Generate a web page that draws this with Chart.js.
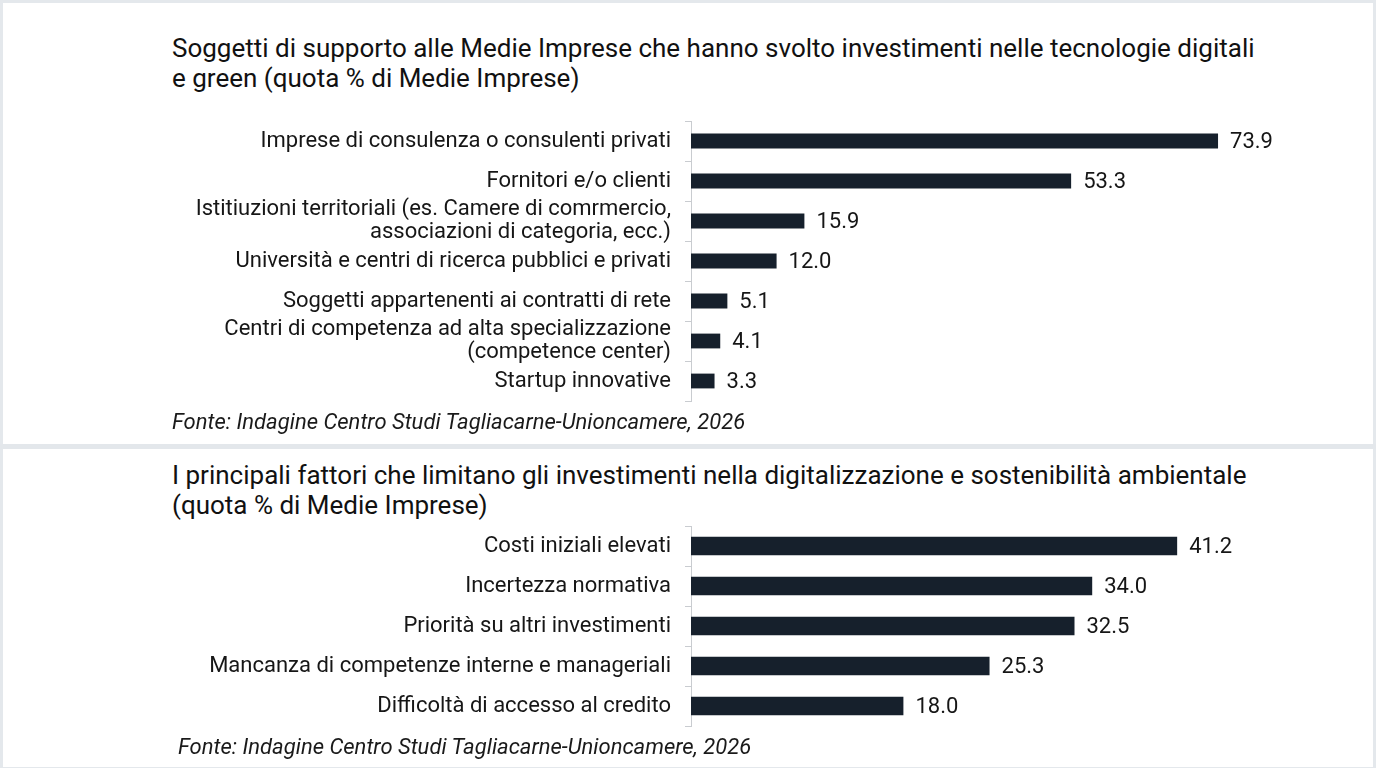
<!DOCTYPE html>
<html lang="it">
<head>
<meta charset="utf-8">
<title>Medie Imprese - investimenti digitali e green</title>
<script src="https://cdn.jsdelivr.net/npm/chart.js@4"></script>
<style>
  html, body { margin: 0; padding: 0; background: #fff; }
  body { width: 1376px; height: 768px; position: relative; overflow: hidden; font-family: Roboto, "Liberation Sans", sans-serif; color: #111; }
  .frame { position: absolute; left: 0; top: 0; width: 1370px; height: 764px; border: 3px solid #e4e8ec; border-bottom: 1px solid #e4e8ec; }
  .sep { position: absolute; left: 0; top: 444px; width: 1376px; height: 5px; background: #e3e7eb; }
  .title { position: absolute; left: 172px; font-size: 26px; line-height: 30px; color: #111; white-space: nowrap; }
  .src { position: absolute; font-size: 22px; font-style: italic; line-height: 26px; color: #1a1a1a; white-space: nowrap; }
  canvas { position: absolute; left: 0; }
</style>
</head>
<body>
<div class="frame"></div>
<div class="sep"></div>

<div class="title" style="top:33px">Soggetti di supporto alle Medie Imprese che hanno svolto investimenti nelle tecnologie digitali<br>e green (quota % di Medie Imprese)</div>
<canvas id="chart-top" style="top:110px"></canvas>
<div class="src" style="left:172px; top:409px">Fonte: Indagine Centro Studi Tagliacarne-Unioncamere, 2026</div>

<div class="title" style="top:460px">I principali fattori che limitano gli investimenti nella digitalizzazione e sostenibilità ambientale<br>(quota % di Medie Imprese)</div>
<canvas id="chart-bottom" style="top:515px"></canvas>
<div class="src" style="left:178px; top:734px">Fonte: Indagine Centro Studi Tagliacarne-Unioncamere, 2026</div>

<script>
'use strict';

// ── DATA ───────────────────────────────────────────────────
const SUPPORT_LABELS = [
  'Imprese di consulenza o consulenti privati',
  'Fornitori e/o clienti',
  ['Istitiuzioni territoriali (es. Camere di comrmercio,', 'associazioni di categoria, ecc.)'],
  'Università e centri di ricerca pubblici e privati',
  'Soggetti appartenenti ai contratti di rete',
  ['Centri di competenza ad alta specializzazione', '(competence center)'],
  'Startup innovative'
];
const SUPPORT_VALUES = [73.9, 53.3, 15.9, 12.0, 5.1, 4.1, 3.3];

const LIMIT_LABELS = [
  'Costi iniziali elevati',
  'Incertezza normativa',
  'Priorità su altri investimenti',
  'Mancanza di competenze interne e manageriali',
  'Difficoltà di accesso al credito'
];
const LIMIT_VALUES = [41.2, 34.0, 32.5, 25.3, 18.0];

// ── STYLE ──────────────────────────────────────────────────
const BAR_COLOR = '#16202c';
const AXIS_COLOR = '#c9ccd0';
const TEXT_COLOR = '#161616';
const AXIS_LEFT = 691;

// value labels at the end of each bar
const valueLabels = {
  id: 'valueLabels',
  afterDatasetsDraw(chart) {
    const ctx = chart.ctx;
    const meta = chart.getDatasetMeta(0);
    const data = chart.data.datasets[0].data;
    ctx.save();
    ctx.font = '22px Roboto, "Liberation Sans", sans-serif';
    ctx.fillStyle = TEXT_COLOR;
    ctx.textAlign = 'left';
    ctx.textBaseline = 'middle';
    meta.data.forEach((bar, i) => {
      ctx.fillText(data[i].toFixed(1), bar.x + 12, bar.y + 1);
    });
    ctx.restore();
  }
};

function makeChart(id, labels, values, opts) {
  const canvas = document.getElementById(id);
  canvas.width = 1376;
  canvas.height = opts.height;
  canvas.style.width = '1376px';
  canvas.style.height = opts.height + 'px';
  return new Chart(canvas, {
    type: 'bar',
    data: {
      labels,
      datasets: [{
        data: values,
        backgroundColor: BAR_COLOR,
        borderWidth: 0,
        barPercentage: opts.barPct,
        categoryPercentage: 1
      }]
    },
    options: {
      indexAxis: 'y',
      responsive: false,
      animation: false,
      devicePixelRatio: 1,
      layout: { padding: { top: 11, bottom: 14, left: 0, right: 36 } },
      plugins: { legend: { display: false }, tooltip: { enabled: false } },
      scales: {
        x: { display: false, min: 0, max: opts.max },
        y: {
          afterFit(scale) {
            scale.width = AXIS_LEFT;
            scale.paddingTop = 0;
            scale.paddingBottom = 0;
          },
          border: { display: true, color: AXIS_COLOR, width: 1 },
          grid: { offset: true, drawOnChartArea: false, drawTicks: true, tickLength: 6, color: AXIS_COLOR },
          ticks: {
            autoSkip: false,
            color: TEXT_COLOR,
            padding: 14,
            font: { family: 'Roboto, "Liberation Sans", sans-serif', size: 22, lineHeight: 1.05 }
          }
        }
      }
    },
    plugins: [valueLabels]
  });
}

makeChart('chart-top', SUPPORT_LABELS, SUPPORT_VALUES, { height: 305, max: 91, barPct: 0.37 });
makeChart('chart-bottom', LIMIT_LABELS, LIMIT_VALUES, { height: 225, max: 55, barPct: 0.46 });
</script>
</body>
</html>
